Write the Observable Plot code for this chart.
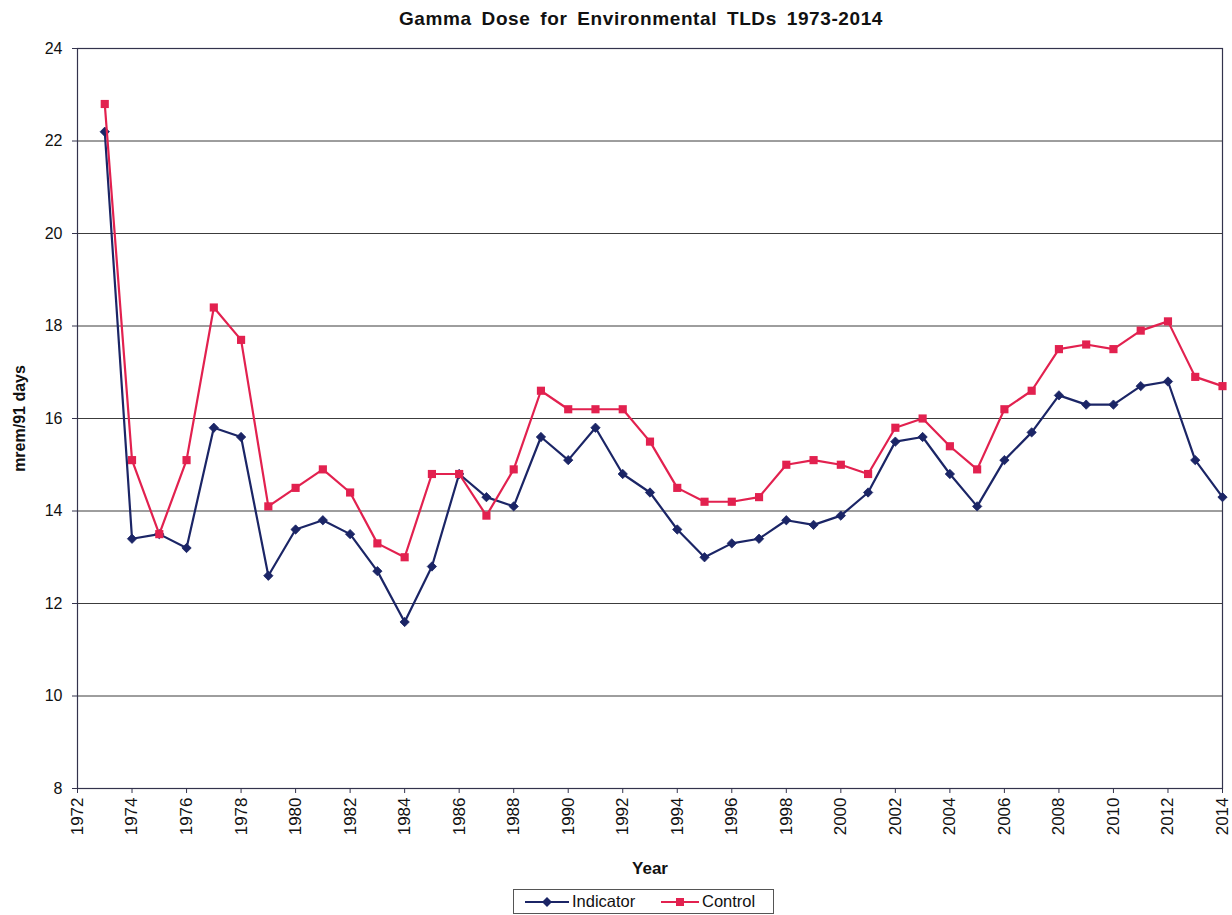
<!DOCTYPE html>
<html>
<head>
<meta charset="utf-8">
<script src="https://cdn.jsdelivr.net/npm/d3@7"></script>
<script src="https://cdn.jsdelivr.net/npm/@observablehq/plot@0.6"></script>
<style>
  body { margin: 0; background: #fff; font-family: "Liberation Sans", Arial, sans-serif; }
  #wrap { position: relative; width: 1232px; height: 915px; overflow: hidden; }
  #title { position: absolute; left: 0; top: 8px; width: 1282px; text-align: center;
           font-weight: bold; font-size: 19px; letter-spacing: 0.6px; word-spacing: 4px; color: #111; line-height: 22px; }
  #chart { position: absolute; left: 0; top: 40px; }
  #legend { position: absolute; left: 513px; top: 889px; width: 259px; height: 23px;
            border: 1px solid #555; background: #fff; font-size: 16.5px; color: #111; }
  .item { position: absolute; top: 0; height: 23px; display: flex; align-items: center; }
  .item svg { margin-right: 2px; }
  g[aria-label="x-axis label"] text, g[aria-label="y-axis label"] text { font-weight: bold; }
</style>
</head>
<body>
<div id="wrap">
  <div id="title">Gamma Dose for Environmental TLDs 1973-2014</div>
  <div id="chart"></div>
  <div id="legend"></div>
</div>
<script>
const years = [1973,1974,1975,1976,1977,1978,1979,1980,1981,1982,1983,1984,1985,1986,1987,1988,1989,1990,1991,1992,1993,1994,1995,1996,1997,1998,1999,2000,2001,2002,2003,2004,2005,2006,2007,2008,2009,2010,2011,2012,2013,2014];
const indicator = [22.2,13.4,13.5,13.2,15.8,15.6,12.6,13.6,13.8,13.5,12.7,11.6,12.8,14.8,14.3,14.1,15.6,15.1,15.8,14.8,14.4,13.6,13.0,13.3,13.4,13.8,13.7,13.9,14.4,15.5,15.6,14.8,14.1,15.1,15.7,16.5,16.3,16.3,16.7,16.8,15.1,14.3];
const control = [22.8,15.1,13.5,15.1,18.4,17.7,14.1,14.5,14.9,14.4,13.3,13.0,14.8,14.8,13.9,14.9,16.6,16.2,16.2,16.2,15.5,14.5,14.2,14.2,14.3,15.0,15.1,15.0,14.8,15.8,16.0,15.4,14.9,16.2,16.6,17.5,17.6,17.5,17.9,18.1,16.9,16.7];
const seriesNames = ["Indicator", "Control"];
const seriesColors = ["#1b2566", "#e2214f"];
const xTicks = [1972,1974,1976,1978,1980,1982,1984,1986,1988,1990,1992,1994,1996,1998,2000,2002,2004,2006,2008,2010,2012,2014];
const yTicks = [8,10,12,14,16,18,20,22,24];

const indData = years.map((y, i) => ({year: y, value: indicator[i]}));
const ctlData = years.map((y, i) => ({year: y, value: control[i]}));

const chart = Plot.plot({
  width: 1232,
  height: 845,
  marginTop: 8,
  marginLeft: 77,
  marginRight: 10,
  marginBottom: 97,
  style: { fontFamily: "'Liberation Sans', Arial, sans-serif", fontSize: "16px", color: "#111", background: "transparent", overflow: "visible" },
  x: { domain: [1972, 2014], label: "Year", labelArrow: "none" },
  y: { domain: [8, 24], label: "mrem/91 days", labelArrow: "none" },
  marks: [
    Plot.gridY(yTicks, { stroke: "#3c3c3c", strokeOpacity: 1, strokeWidth: 1 }),
    Plot.frame({ stroke: "#33334d", strokeWidth: 1.2 }),
    Plot.axisX(xTicks, { tickFormat: d => String(d), tickRotate: -90, tickSize: 5, tickPadding: 4, fontSize: 17, label: "Year", labelArrow: "none", labelAnchor: "center", labelOffset: 85, stroke: "#33334d" }),
    Plot.axisY(yTicks, { tickSize: 5, tickPadding: 10, fontSize: 16, label: "mrem/91 days", labelArrow: "none", labelAnchor: "center", labelOffset: 64, stroke: "#33334d" }),
    Plot.line(indData, { x: "year", y: "value", stroke: seriesColors[0], strokeWidth: 2.2 }),
    Plot.dot(indData, { x: "year", y: "value", symbol: "diamond2", r: 4.2, fill: seriesColors[0], stroke: seriesColors[0], strokeWidth: 0.8 }),
    Plot.line(ctlData, { x: "year", y: "value", stroke: seriesColors[1], strokeWidth: 2.2 }),
    Plot.dot(ctlData, { x: "year", y: "value", symbol: "square", r: 4.6, fill: seriesColors[1], stroke: "none" })
  ]
});
document.getElementById("chart").appendChild(chart);

// Legend
const legend = document.getElementById("legend");
const icons = [
  `<svg width="46" height="14"><line x1="1" y1="7" x2="45" y2="7" stroke="${seriesColors[0]}" stroke-width="2.2"/><path d="M23,2 L28,7 L23,12 L18,7 Z" fill="${seriesColors[0]}"/></svg>`,
  `<svg width="40" height="14"><line x1="1" y1="7" x2="39" y2="7" stroke="${seriesColors[1]}" stroke-width="2.2"/><rect x="16" y="3" width="8" height="8" fill="${seriesColors[1]}"/></svg>`
];
const lefts = [10, 146];
seriesNames.forEach((name, i) => {
  const d = document.createElement("div");
  d.className = "item";
  d.style.left = lefts[i] + "px";
  d.innerHTML = icons[i] + `<span>${name}</span>`;
  legend.appendChild(d);
});
</script>
</body>
</html>
